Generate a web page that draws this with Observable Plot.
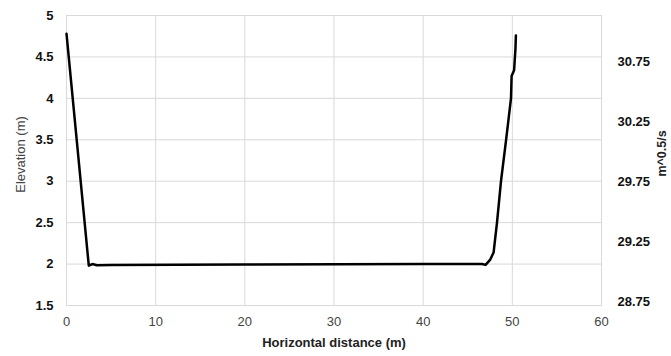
<!DOCTYPE html>
<html>
<head>
<meta charset="utf-8">
<script src="https://cdn.jsdelivr.net/npm/d3@7"></script>
<script src="https://cdn.jsdelivr.net/npm/@observablehq/plot@0.6"></script>
<style>
  html, body { margin: 0; padding: 0; background: #fff; }
  #chart svg { display: block; font-family: "Liberation Sans", Arial, sans-serif; }
</style>
</head>
<body>
<div id="chart"></div>
<script>
// Cross-section profile (horizontal distance in m, elevation in m)
const distance = [0, 2.5, 2.9, 3.4, 5, 20, 40, 46.6, 47.0, 47.5, 47.9, 48.28, 48.73, 49.3, 49.85, 49.92, 50.2, 50.35, 50.4];
const elevation = [4.78, 1.98, 2.0, 1.985, 1.99, 1.995, 2.0, 2.0, 1.99, 2.05, 2.14, 2.5, 3.0, 3.5, 4.0, 4.27, 4.34, 4.6, 4.76];

const xTicks = [0, 10, 20, 30, 40, 50, 60];
const yTicks = [1.5, 2, 2.5, 3, 3.5, 4, 4.5, 5];
const rightTicks = [28.75, 29.25, 29.75, 30.25, 30.75];
const rightDomain = [28.717, 31.14];
const yDomain = [1.5, 5];

const xTitle = "Horizontal distance (m)";
const yTitle = "Elevation (m)";
const rightTitle = "m^0.5/s";

const profile = distance.map((d, i) => ({x: d, y: elevation[i]}));
const toLeft = d3.scaleLinear().domain(rightDomain).range(yDomain);

const chart = Plot.plot({
  width: 671,
  height: 356,
  marginLeft: 66,
  marginRight: 70,
  marginTop: 15,
  marginBottom: 51,
  style: {fontFamily: "'Liberation Sans', Arial, sans-serif", background: "#fff"},
  x: {domain: [0, 60]},
  y: {domain: yDomain},
  marks: [
    Plot.gridX(xTicks, {stroke: "#d9d9d9", strokeOpacity: 1}),
    Plot.gridY(yTicks, {stroke: "#d9d9d9", strokeOpacity: 1}),
    Plot.frame({stroke: "#d9d9d9"}),
    Plot.axisX(xTicks, {tickSize: 0, tickPadding: 11, fontSize: 13, fill: "#444", label: null, tickFormat: d => String(d)}),
    Plot.axisY(yTicks, {tickSize: 0, tickPadding: 13, fontSize: 13, fontWeight: "bold", fill: "#111", label: null, tickFormat: d => String(d)}),
    Plot.text(rightTicks, {x: () => 60, y: d => toLeft(d), text: d => d.toFixed(2), textAnchor: "start", dx: 16, fontSize: 13, fontWeight: "bold", fill: "#111"}),
    Plot.text([xTitle], {frameAnchor: "bottom", dy: 41, fontSize: 13, fontWeight: "bold", fill: "#222"}),
    Plot.text([yTitle], {frameAnchor: "left", textAnchor: "middle", dx: -46, dy: -6, rotate: -90, fontSize: 13, fill: "#444"}),
    Plot.text([rightTitle], {frameAnchor: "right", textAnchor: "middle", dx: 60, dy: -7, rotate: -90, fontSize: 12.5, fontWeight: "bold", fill: "#222"}),
    Plot.line(profile, {x: "x", y: "y", stroke: "#000", strokeWidth: 2.5, strokeLinejoin: "round"})
  ]
});
document.getElementById("chart").appendChild(chart);
</script>
</body>
</html>
